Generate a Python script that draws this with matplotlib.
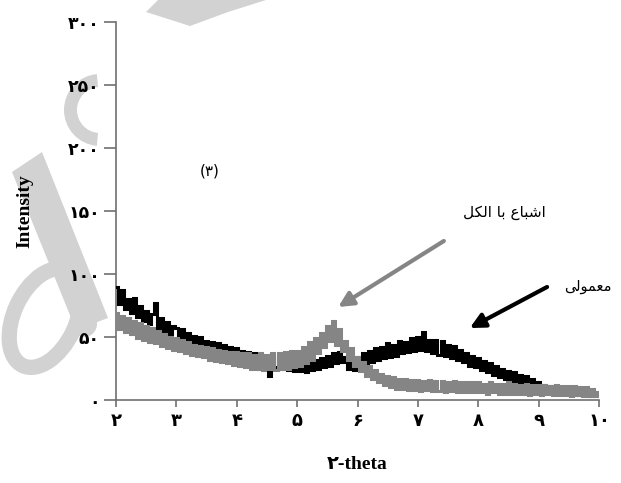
import numpy as np
import matplotlib
matplotlib.use("Agg")
import matplotlib.pyplot as plt
from matplotlib.patches import Polygon, Ellipse, Wedge, Circle

# ---- data (2-theta from 2 to 10, step 0.05) ----
two_theta_start = 2.0
two_theta_step = 0.05

normal = [  # معمولی (black)
    90, 76, 87, 72, 80, 69, 81, 66, 75, 63, 71, 60, 68, 77, 57, 65, 54, 62, 52, 59,
    57, 49, 56, 47, 53, 45, 51, 44, 50, 42, 47, 41, 46, 39, 45, 38, 44, 36, 42, 35,
    41, 33, 39, 31, 38, 30, 37, 29, 35, 28, 34, 19, 33, 26, 34, 25, 32, 24, 31, 23,
    31, 23, 30, 22, 31, 24, 32, 25, 33, 26, 35, 27, 37, 29, 38, 30, 34, 25, 31, 24,
    34, 27, 37, 29, 39, 30, 41, 32, 42, 33, 45, 34, 44, 35, 47, 37, 46, 38, 49, 39,
    50, 40, 54, 39, 48, 37, 48, 36, 47, 35, 44, 33, 43, 32, 40, 30, 37, 27, 35, 26,
    33, 24, 31, 22, 29, 20, 27, 18, 25, 17, 23, 15, 22, 14, 20, 13, 19, 12, 17, 11,
    14, 8, 12, 7, 11, 6, 10, 6, 10, 5, 9, 5, 9, 4, 8, 4, 8, 3, 7, 3, 3,
]

alcohol = [  # اشباع با الکل (gray)
    69, 56, 67, 54, 65, 52, 63, 49, 61, 48, 59, 46, 57, 45, 55, 43, 52, 41, 50, 40,
    49, 39, 48, 37, 46, 36, 44, 35, 43, 34, 42, 32, 41, 31, 40, 30, 39, 29, 38, 28,
    38, 27, 37, 26, 37, 25, 36, 25, 37, 24, 36, 25, 37, 24, 37, 25, 38, 25, 39, 26,
    39, 27, 42, 29, 46, 32, 49, 37, 53, 42, 59, 47, 63, 44, 56, 39, 47, 32, 41, 27,
    34, 23, 30, 19, 27, 17, 24, 14, 21, 12, 19, 10, 18, 9, 17, 9, 17, 8, 16, 8,
    16, 7, 15, 8, 16, 7, 15, 7, 15, 6, 14, 7, 15, 6, 14, 6, 14, 6, 14, 6,
    14, 6, 13, 5, 14, 6, 13, 5, 13, 5, 14, 5, 13, 5, 12, 5, 13, 4, 12, 5,
    12, 4, 12, 5, 11, 4, 12, 4, 11, 4, 11, 3, 11, 4, 10, 3, 10, 3, 9, 3, 6,
]

x_ticks = [2, 3, 4, 5, 6, 7, 8, 9, 10]
y_ticks = [0, 50, 100, 150, 200, 250, 300]

label_alcohol = "\uFEDE\uFB91\uFEDF\uFE8D \uFE8E\uFE91 \uFEC9\uFE8E\uFE92\uFEB7\uFE8D"  # اشباع با الکل (shaped, visual order)
label_normal = "\uFEF0\uFEDF\uFEEE\uFEE4\uFECC\uFEE3"  # معمولی (shaped, visual order)
panel_label = "(۳)"

fa = str.maketrans("0123456789", "۰۱۲۳۴۵۶۷۸۹")

x = two_theta_start + two_theta_step * np.arange(len(normal))

W, H = 621, 483
fig = plt.figure(figsize=(W / 100, H / 100), dpi=100)
fig.patch.set_facecolor("white")

# faint watermark shapes in the background (pixel coordinates)
bg = fig.add_axes([0, 0, 1, 1], zorder=-5)
bg.set_xlim(0, W)
bg.set_ylim(H, 0)
bg.axis("off")
wm = "#d2d2d2"
bg.add_patch(Polygon([(146, 12), (158, 0), (266, 0), (228, 12), (190, 26)],
                     closed=True, color=wm, lw=0))
bg.add_patch(Wedge((100, 110), 36, 95, 265, width=13, color=wm, lw=0))
bg.add_patch(Polygon([(12, 172), (42, 152), (108, 318), (76, 330)],
                     closed=True, color=wm, lw=0))
bg.add_patch(Circle((84, 324), 13, color=wm, lw=0))
bg.add_patch(Ellipse((45, 318), 62, 105, angle=25, fill=False, lw=11, ec=wm))

ax = fig.add_axes([116 / W, 1 - 400 / H, (599 - 116) / W, (400 - 22) / H], zorder=1)
ax.patch.set_alpha(0)

ax.plot(x, normal, color="black", lw=2.2, drawstyle="steps-mid",
        solid_joinstyle="miter", zorder=3)
ax.plot(x, alcohol, color="#858585", lw=2.2, drawstyle="steps-mid",
        solid_joinstyle="miter", zorder=4)

ax.set_xlim(2, 10)
ax.set_ylim(0, 300)

for s in ["top", "right"]:
    ax.spines[s].set_visible(False)
for s in ["left", "bottom"]:
    ax.spines[s].set_color("#707070")
    ax.spines[s].set_linewidth(1.2)

ax.set_xticks(x_ticks)
ax.set_xticklabels([str(v).translate(fa) for v in x_ticks])
ax.set_yticks(y_ticks)
ax.set_yticklabels([str(v).translate(fa) for v in y_ticks])
ax.tick_params(axis="both", direction="out", width=1.2, color="#707070")
ax.tick_params(axis="x", length=5, pad=4)
ax.tick_params(axis="y", length=8.5, pad=3)
for t in ax.get_xticklabels():
    t.set_fontfamily(["DejaVu Sans"])
    t.set_fontweight("bold")
    t.set_fontsize(13)
for t in ax.get_yticklabels():
    t.set_fontfamily(["DejaVu Sans"])
    t.set_fontweight("bold")
    t.set_fontsize(12.5)

ax.set_xlabel("۲-theta", fontsize=14, fontweight="bold",
              family=["Liberation Serif", "DejaVu Sans"])
ax.xaxis.set_label_coords(0.5, (400 - 456) / 378)
ax.set_ylabel("Intensity", fontsize=14, fontweight="bold",
              family=["Liberation Serif", "DejaVu Sans"])
ax.yaxis.set_label_coords((33 - 116) / 483, 0.5)

# arrows and annotations
ax.annotate("", xy=(5.68, 73.8), xytext=(7.43, 126.2),
            arrowprops=dict(arrowstyle="-|>", color="#858585", lw=3, mutation_scale=22,
                            shrinkA=0, shrinkB=0))
ax.annotate("", xy=(7.86, 57.1), xytext=(9.14, 89.7),
            arrowprops=dict(arrowstyle="-|>", color="black", lw=3, mutation_scale=22,
                            shrinkA=0, shrinkB=0))
ax.text(8.44, 149.2, label_alcohol, ha="center", va="center", fontsize=11,
        family=["DejaVu Sans"])
ax.text(9.82, 89.7, label_normal, ha="center", va="center", fontsize=10.5,
        family=["DejaVu Sans"])
ax.text(3.56, 181.7, panel_label, ha="center", va="center", fontsize=11,
        family=["DejaVu Sans"])

fig.savefig("out.png", dpi=100)
